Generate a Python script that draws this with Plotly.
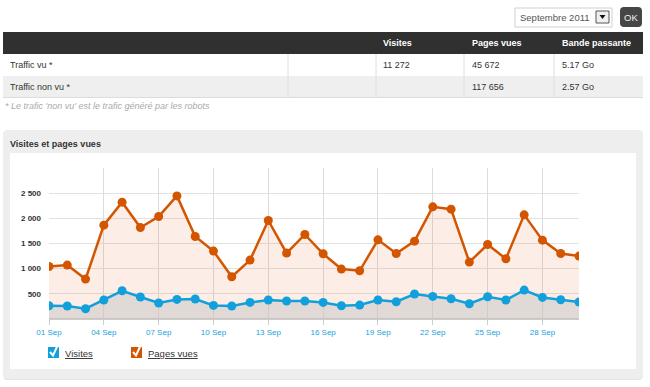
import plotly.graph_objects as go

# ---------------- data ----------------
days = [f"2011-09-{d:02d}" for d in range(1, 31)]
pages_vues = [1044, 1071, 793, 1865, 2321, 1818, 2036, 2446, 1639, 1349,
              839, 1170, 1957, 1309, 1679, 1296, 992, 958, 1573, 1302,
              1547, 2228, 2182, 1131, 1480, 1196, 2069, 1567, 1302, 1250]
visites = [264, 258, 204, 377, 561, 436, 317, 389, 397, 270,
           258, 329, 377, 357, 357, 329, 264, 277, 377, 343,
           496, 449, 403, 304, 442, 377, 575, 429, 383, 337]
x_tick_vals = ["2011-09-01", "2011-09-04", "2011-09-07", "2011-09-10", "2011-09-13",
               "2011-09-16", "2011-09-19", "2011-09-22", "2011-09-25", "2011-09-28"]
x_tick_text = ["01 Sep", "04 Sep", "07 Sep", "10 Sep", "13 Sep",
               "16 Sep", "19 Sep", "22 Sep", "25 Sep", "28 Sep"]
y_tick_vals = [0, 500, 1000, 1500, 2000, 2500, 3000]
y_tick_text = ["", "500", "1 000", "1 500", "2 000", "2 500", ""]

table_header = ["", "", "Visites", "Pages vues", "Bande passante"]
table_rows = [["Traffic vu *", "", "11 272", "45 672", "5.17 Go"],
              ["Traffic non vu *", "", "", "117 656", "2.57 Go"]]
footnote = "* Le trafic 'non vu' est le trafic généré par les robots"
chart_title = "Visites et pages vues"
month_label = "Septembre 2011"

ORANGE = "#d45500"
BLUE = "#12a0dc"
FONT = "Liberation Sans"

W, H = 650, 387
L, R, T, B = 49, 579, 168, 319


def px(x):
    return (x - L) / (R - L)


def py(y):
    return (B - y) / (B - T)


def rrect(x0, y0, x1, y1, r, fill, line=None, layer="below"):
    rx = r / (R - L)
    ry = r / (B - T)
    a, b, c, d = px(x0), py(y0), px(x1), py(y1)  # b top, d bottom
    path = (f"M{a+rx},{b} L{c-rx},{b} Q{c},{b} {c},{b-ry} L{c},{d+ry} Q{c},{d} {c-rx},{d} "
            f"L{a+rx},{d} Q{a},{d} {a},{d+ry} L{a},{b-ry} Q{a},{b} {a+rx},{b} Z")
    return dict(type="path", xref="paper", yref="paper", path=path, fillcolor=fill,
                line=dict(width=1 if line else 0, color=line or fill), layer=layer)


def rect(x0, y0, x1, y1, fill, line=None, lw=1, layer="below"):
    return dict(type="rect", xref="paper", yref="paper", x0=px(x0), x1=px(x1),
                y0=py(y1), y1=py(y0), fillcolor=fill,
                line=dict(width=lw if line else 0, color=line or fill), layer=layer)


def hline(x0, x1, y, color, w=1):
    return dict(type="line", xref="paper", yref="paper", x0=px(x0), x1=px(x1),
                y0=py(y), y1=py(y), line=dict(color=color, width=w), layer="below")


def vline(x, y0, y1, color, w=1):
    return dict(type="line", xref="paper", yref="paper", x0=px(x), x1=px(x),
                y0=py(y0), y1=py(y1), line=dict(color=color, width=w), layer="below")


def text(x, y, s, size=9, color="#333", anchor="left", bold=False, italic=False):
    if bold:
        s = f"<b>{s}</b>"
    if italic:
        s = f"<i>{s}</i>"
    if anchor == "left":
        x -= 2  # compensate annotation padding
    return dict(xref="paper", yref="paper", x=px(x), y=py(y), text=s, showarrow=False,
                xanchor=anchor, yanchor="middle", font=dict(family=FONT, size=size, color=color))


fig = go.Figure()
fig.add_trace(go.Scatter(x=days, y=pages_vues, mode="lines+markers", name="Pages vues",
                         line=dict(color=ORANGE, width=2.5), marker=dict(size=9, color=ORANGE),
                         fill="tozeroy", fillcolor="rgba(232,120,60,0.13)"))
fig.add_trace(go.Scatter(x=days, y=visites, mode="lines+markers", name="Visites",
                         line=dict(color=BLUE, width=2.5), marker=dict(size=9, color=BLUE),
                         fill="tozeroy", fillcolor="rgba(200,200,200,0.55)"))

shapes = []
annotations = []

# top controls
shapes.append(rect(515, 8, 612, 27, "white", line="#d0d0d0"))
shapes.append(rect(596, 11, 609, 23, "#f0f0f0", line="#555"))
shapes.append(dict(type="path", xref="paper", yref="paper", layer="below",
                   path=f"M{px(599.5)},{py(15)} L{px(605.5)},{py(15)} L{px(602.5)},{py(19)} Z",
                   fillcolor="#111", line=dict(width=0)))
annotations.append(text(520, 17.5, month_label, size=9.5, color="#555"))
shapes.append(rrect(620, 7, 642, 27, 4, "#464646"))
annotations.append(text(631, 17, "OK", size=9.5, color="#f0f0f0", anchor="center"))

# table
shapes.append(rect(3, 32, 643, 54, "#303030"))
shapes.append(rect(3, 76, 643, 97, "#efefef"))
shapes.append(hline(3, 643, 97.5, "#dcdcdc"))
for sx in [288, 376, 464, 554]:
    shapes.append(vline(sx, 54, 97, "#dedede"))
col_x = [10, 296, 383, 472, 562]
for cx, h in zip(col_x, table_header):
    if h:
        annotations.append(text(cx, 43, h, size=9, color="white", bold=True))
for ry, row in zip([65, 86.5], table_rows):
    for cx, v in zip(col_x, row):
        if v:
            annotations.append(text(cx, ry, v, size=9, color="#333"))
annotations.append(text(5, 105.5, footnote, size=9, color="#aaaaaa", italic=True))

# chart panel
shapes.append(rrect(3, 131, 643, 380, 5, "#e2e2e2"))
shapes.append(rrect(3, 130, 643, 379, 5, "#eeeeee"))
shapes.append(rect(10, 153, 636, 369, "white"))
annotations.append(text(10, 144, chart_title, size=9, color="#333", bold=True))

# custom legend
for lx, col, name in [(48, BLUE, "Visites"), (131, ORANGE, "Pages vues")]:
    shapes.append(rect(lx, 347, lx + 11, 358, col))
    shapes.append(dict(type="path", xref="paper", yref="paper", layer="above",
                       path=f"M{px(lx+2)},{py(352)} L{px(lx+5)},{py(355.5)} L{px(lx+10)},{py(344.5)}",
                       line=dict(color="white", width=2)))
    annotations.append(text(lx + 17, 353, f"<u>{name}</u>", size=9.5, color="#333"))

fig.update_layout(
    width=W, height=H,
    margin=dict(l=L, r=W - R, t=T, b=H - B, pad=0),
    paper_bgcolor="white", plot_bgcolor="rgba(0,0,0,0)",
    showlegend=False,
    shapes=shapes, annotations=annotations,
    font=dict(family=FONT),
    xaxis=dict(range=[days[0], days[-1]], tickvals=x_tick_vals, ticktext=x_tick_text,
               showgrid=True, gridcolor="#dcdcdc", gridwidth=1,
               ticks="outside", ticklen=5, tickcolor="#cfcfcf",
               tickfont=dict(family=FONT, size=8, color="#1a9fdc"),
               showline=False, zeroline=False, fixedrange=True),
    yaxis=dict(range=[0, 3000], tickvals=y_tick_vals,
               ticktext=[f"<b>{t}</b>" if t else "" for t in y_tick_text],
               showgrid=True, gridcolor="#e2e2e2", gridwidth=1,
               zeroline=True, zerolinecolor="#cccccc", zerolinewidth=2,
               tickfont=dict(family=FONT, size=8, color="#333"),
               ticklabelstandoff=7, showline=False, fixedrange=True),
)

fig.write_html("out.html", config={"displayModeBar": False},
               post_script="document.body.style.margin='0';document.body.style.overflow='hidden';")
